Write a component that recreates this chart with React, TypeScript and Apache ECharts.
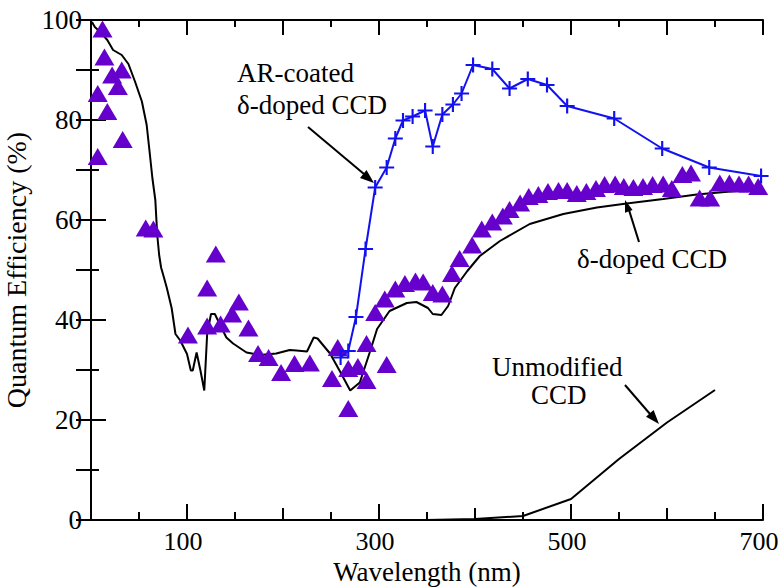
import React, { useEffect, useRef } from "react";
import * as echarts from "echarts";

// δ-doped CCD (model curve, black)
const deltaModel: [number, number][] = [
  [1, 99.6], [4, 98.6], [10, 97.5], [17, 96], [23, 94], [32, 93], [39, 91.2], [46, 87.6],
  [53, 83.7], [58, 79], [61, 73.7], [64, 68.3], [67, 64], [69, 57], [71, 53], [73, 50.5],
  [76, 48.5], [79, 46.4], [84, 42.4], [88, 37.2], [93, 35.9], [100, 33.2], [104, 29.9],
  [106, 29.9], [110, 33.5], [114, 29.9], [118, 25.9], [121, 37.2], [125, 41.2], [129, 41.2],
  [134, 39.2], [141, 36.5], [148, 35.3], [162, 33.5], [176, 33], [193, 33.3], [207, 34],
  [214, 33.9], [225, 33.7], [232, 36.5], [236, 36.3], [249, 33.3], [260, 29.5], [270, 25.9],
  [280, 27.5], [291, 33.9], [298, 38.2], [311, 41.8], [329, 43.4], [339, 43.6], [351, 42.4],
  [356, 41.2], [365, 41], [372, 42.8], [379, 46.4], [392, 49.8], [405, 52.8], [426, 55.8],
  [457, 59.2], [492, 61.2], [527, 62.5], [558, 63.3], [596, 64.2], [631, 65.1], [666, 65.7],
  [700, 66.2],
];

// Unmodified CCD (black)
const unmodified: [number, number][] = [
  [300, 0], [350, 0], [400, 0.2], [450, 0.8], [500, 4.2], [550, 12.2], [600, 19.5], [650, 26],
];

// AR-coated δ-doped CCD (blue, + markers)
const arCoated: [number, number][] = [
  [260, 32.5], [268, 33.8], [276, 40.6], [286, 54.2], [296, 66.5], [308, 70.5], [317, 76.3],
  [325, 79.9], [335, 80.7], [348, 81.9], [356, 74.7], [366, 81.1], [377, 83.1], [386, 85.3],
  [398, 91], [418, 90.2], [436, 86.3], [455, 88.2], [475, 87], [496, 82.8], [545, 80.3],
  [595, 74.3], [644, 70.5], [698, 68.8],
];

// δ-doped CCD measured points (purple triangles)
const deltaMeasured: [number, number][] = [
  [7, 72.7], [7, 85.3], [12, 98.2], [14, 92.6], [17, 81.7], [22, 89], [28, 86.7], [32, 90],
  [33, 76.1], [57, 58.4], [65, 58.2], [101, 37], [121, 46.4], [130, 53.2], [121, 38.8],
  [135, 39.2], [147, 41.2], [154, 43.6], [164, 38.4], [174, 33.3], [185, 32.5], [198, 29.5],
  [212, 31.3], [228, 31.4], [251, 28.3], [257, 34.5], [268, 30.3], [268, 22.3], [278, 30.7],
  [287, 35.3], [287, 27.9], [296, 41.5], [308, 31.1], [306, 44.2], [317, 46.2], [327, 47.3],
  [338, 47.8], [346, 47.6], [356, 45.5], [366, 45.2], [376, 49.3], [384, 52.3], [397, 55],
  [407, 58.2], [418, 59.6], [429, 60.8], [436, 62.1], [447, 63.4], [456, 64.7], [466, 65.1],
  [476, 65.7], [487, 65.9], [496, 65.9], [506, 65.3], [516, 65.7], [526, 66.3], [535, 67.1],
  [546, 67.2], [555, 66.7], [565, 66.5], [575, 66.7], [585, 67.1], [596, 67.2], [605, 66.3],
  [616, 69.1], [625, 69.4], [634, 64.4], [645, 64.4], [655, 67.4], [665, 67.4], [675, 67.2],
  [685, 67.2], [695, 66.7],
];

const xMajorLabels = [100, 300, 500, 700];
const xMidTicks = [200, 400, 600];
const xMinorTicks = [50, 150, 250, 350, 450, 550, 650];

const FONT = "Liberation Serif";
const BLUE = "#1212f0";
const PURPLE = "#6600cc";

export default function App() {
  const ref = useRef<HTMLDivElement>(null);
  useEffect(() => {
    if (!ref.current) return;
    const chart = echarts.init(ref.current, undefined, { renderer: "svg" });
    const axisLine = { show: true, lineStyle: { color: "#000", width: 2 } };
    const tickStyle = { color: "#000", width: 2 };
    const hiddenAxisBase = {
      type: "value" as const,
      min: 0,
      max: 700,
      axisLabel: { show: false },
      splitLine: { show: false },
    };
    const textStyle = (size: number) => ({ fontSize: size, fontFamily: FONT, color: "#000" });
    const option: any = {
      animation: false,
      backgroundColor: "#fff",
      grid: { left: 91, right: 16, top: 20, bottom: 67, containLabel: false, outerBoundsMode: "none" },
      xAxis: [
        {
          type: "value",
          position: "bottom",
          min: 0,
          max: 700,
          interval: 50,
          axisLine,
          axisTick: { show: true, inside: true, length: 16, customValues: xMajorLabels, lineStyle: tickStyle },
          axisLabel: {
            customValues: xMajorLabels,
            formatter: (v: number) => (xMajorLabels.includes(v) ? String(v) : ""),
            ...textStyle(26),
            margin: 8,
            padding: [0, 8, 0, 0],
          },
          splitLine: { show: false },
          name: "Wavelength (nm)",
          nameLocation: "middle",
          nameGap: 26,
          nameTextStyle: textStyle(27),
        },
        {
          ...hiddenAxisBase,
          position: "bottom",
          interval: 50,
          axisLine: { show: false },
          axisTick: { show: true, inside: true, length: 12, customValues: xMidTicks, lineStyle: tickStyle },
        },
        {
          ...hiddenAxisBase,
          position: "bottom",
          interval: 50,
          axisLine: { show: false },
          axisTick: { show: true, inside: true, length: 8, customValues: xMinorTicks, lineStyle: tickStyle },
        },
        {
          ...hiddenAxisBase,
          position: "top",
          interval: 100,
          axisLine,
          axisTick: { show: true, inside: true, length: 15, lineStyle: tickStyle },
          minorTick: { show: true, splitNumber: 2, length: 7, lineStyle: tickStyle },
        },
      ],
      yAxis: [
        {
          type: "value",
          position: "left",
          min: 0,
          max: 100,
          interval: 20,
          axisLine,
          axisTick: { show: true, inside: true, length: 15, lineStyle: tickStyle },
          minorTick: { show: true, splitNumber: 2, length: 8, lineStyle: tickStyle },
          axisLabel: { ...textStyle(27), margin: 9 },
          splitLine: { show: false },
          name: "Quantum Efficiency (%)",
          nameLocation: "middle",
          nameGap: 52,
          nameTextStyle: textStyle(28),
        },
        {
          type: "value",
          position: "right",
          min: 0,
          max: 100,
          interval: 10,
          axisLine,
          axisTick: { show: true, inside: true, length: 15, lineStyle: tickStyle },
          axisLabel: { show: false },
          splitLine: { show: false },
        },
      ],
      series: [
        {
          name: "δ-doped CCD model",
          type: "line",
          xAxisIndex: 0,
          yAxisIndex: 0,
          data: deltaModel,
          showSymbol: false,
          lineStyle: { color: "#000", width: 2 },
          z: 2,
        },
        {
          name: "Unmodified CCD",
          type: "line",
          xAxisIndex: 0,
          yAxisIndex: 0,
          data: unmodified,
          showSymbol: false,
          lineStyle: { color: "#000", width: 2 },
          z: 2,
        },
        {
          name: "δ-doped CCD",
          type: "scatter",
          xAxisIndex: 0,
          yAxisIndex: 0,
          data: deltaMeasured,
          symbol: "triangle",
          symbolSize: [20, 17],
          itemStyle: { color: PURPLE, opacity: 1 },
          z: 3,
        },
        {
          name: "AR-coated δ-doped CCD",
          type: "line",
          xAxisIndex: 0,
          yAxisIndex: 0,
          data: arCoated,
          symbol: "path://M6,0h2v14h-2zM0,6h14v2h-14z",
          symbolSize: 15,
          showSymbol: true,
          itemStyle: { color: BLUE },
          lineStyle: { color: BLUE, width: 2 },
          z: 4,
        },
      ],
      graphic: [
        { type: "text", left: 237, top: 59, style: { text: "AR-coated", fontSize: 27, fontFamily: FONT, fill: "#000" } },
        { type: "text", left: 237, top: 91, style: { text: "δ-doped CCD", fontSize: 27, fontFamily: FONT, fill: "#000" } },
        { type: "line", shape: { x1: 308, y1: 127, x2: 364, y2: 174 }, style: { stroke: "#000", lineWidth: 2 } },
        { type: "polygon", shape: { points: [[374, 183], [360, 178], [366.5, 170]] }, style: { fill: "#000" } },

        { type: "text", left: 577, top: 245, style: { text: "δ-doped CCD", fontSize: 27, fontFamily: FONT, fill: "#000" } },
        { type: "line", shape: { x1: 639, y1: 242, x2: 629, y2: 210 }, style: { stroke: "#000", lineWidth: 2 } },
        { type: "polygon", shape: { points: [[625, 200], [632.6, 210.1], [625, 212.7]] }, style: { fill: "#000" } },

        { type: "text", left: 492, top: 353, style: { text: "Unmodified", fontSize: 27, fontFamily: FONT, fill: "#000" } },
        { type: "text", left: 531, top: 381, style: { text: "CCD", fontSize: 27, fontFamily: FONT, fill: "#000" } },
        { type: "line", shape: { x1: 625, y1: 385, x2: 650, y2: 414 }, style: { stroke: "#000", lineWidth: 2 } },
        { type: "polygon", shape: { points: [[659, 424], [646, 416.7], [653.6, 410.1]] }, style: { fill: "#000" } },
      ],
    };
    chart.setOption(option);
    return () => chart.dispose();
  }, []);
  return (
    <div
      ref={ref}
      style={{ position: "fixed", left: 0, top: 0, width: 779, height: 587, background: "#fff" }}
    />
  );
}
